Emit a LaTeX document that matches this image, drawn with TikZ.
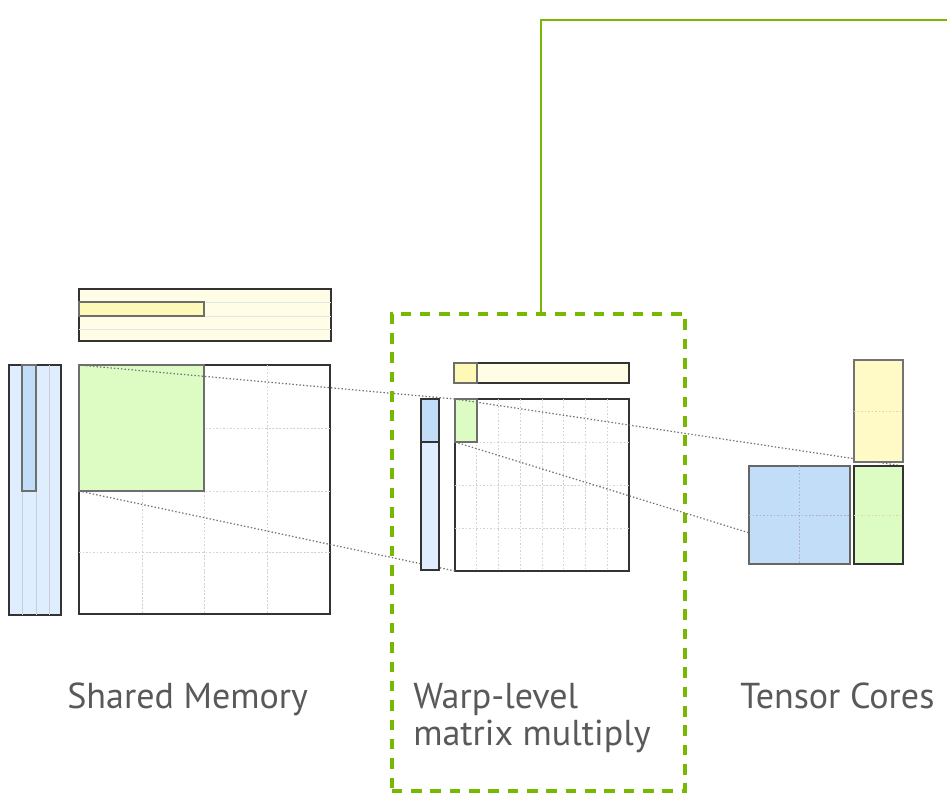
\documentclass[tikz,border=0pt]{standalone}
\usepackage{fontspec}
\usepackage{xcolor}
\usepackage{tikz}
\newfontfamily\capfont{PT Sans}

\definecolor{nvgreen}{HTML}{76B900}
\definecolor{tileedge}{HTML}{333333}
\definecolor{stripedge}{HTML}{6E6E6E}
\definecolor{capgray}{HTML}{595959}
\definecolor{bluelo}{HTML}{DFEEFE}
\definecolor{bluehi}{HTML}{C1DDF8}
\definecolor{yellowlo}{HTML}{FFFDE6}
\definecolor{yellowhi}{HTML}{FFF9B8}
\definecolor{greenhi}{HTML}{DDFCC4}
\newcommand{\pxu}{0.02cm}

\tikzset{
  tile/.style={draw=tileedge, line width=1pt, inner sep=0pt, outer sep=0pt, anchor=north west},
  strip/.style={draw=stripedge, line width=0.7pt, inner sep=0pt, outer sep=0pt, anchor=north west},
  cell/.style={draw=black!18, line width=0.5pt, dash pattern=on 1pt off 1pt},
  sepline/.style={draw=#1, line width=0.5pt},
  link/.style={draw=black!55, line width=0.7pt, dash pattern=on 0.8pt off 1.2pt},
  caption/.style={anchor=base west, inner sep=0pt, text=capgray, align=left,
    font=\capfont\fontsize{20.5}{21}\selectfont},
}

\begin{document}
\begin{tikzpicture}[x=\pxu, y=-\pxu]
\useasboundingbox (0,0) rectangle (947,792);

% shared memory tiles
\node[tile, fill=yellowlo, minimum width=252*\pxu, minimum height=52*\pxu] (smemB) at (79,289) {};
\foreach \r in {302,316,329}
  \draw[sepline=black!10] (79,\r) -- (331,\r);
\node[strip, fill=yellowhi, minimum width=125*\pxu, minimum height=14*\pxu] (smemBk) at (79,302) {};

\node[tile, fill=bluelo, minimum width=52*\pxu, minimum height=250*\pxu] (smemA) at (9,365) {};
\foreach \c in {22,36,49}
  \draw[sepline=blue!20!black!20] (\c,365) -- (\c,615);
\node[strip, fill=bluehi, minimum width=14*\pxu, minimum height=126*\pxu] (smemAk) at (22,365) {};

\node[tile, fill=white, minimum width=251*\pxu, minimum height=249*\pxu] (smemC) at (79,365) {};
\foreach \c in {142,204,267}
  \draw[cell] (\c,365) -- (\c,614);
\foreach \r in {428,491,552}
  \draw[cell] (79,\r) -- (330,\r);
\node[strip, fill=greenhi, minimum width=125*\pxu, minimum height=126*\pxu] (smemCt) at (79,365) {};

% warp-level tiles
\node[tile, fill=yellowlo, minimum width=175*\pxu, minimum height=20*\pxu] (warpB) at (454,363) {};
\node[strip, fill=yellowhi, minimum width=23*\pxu, minimum height=20*\pxu] (warpBk) at (454,363) {};

\node[tile, fill=white, minimum width=174*\pxu, minimum height=172*\pxu] (warpC) at (455,399) {};
\foreach \i in {1,...,7}
  \draw[cell] ({455+21.75*\i},399) -- ({455+21.75*\i},571);
\foreach \r in {442,485,528}
  \draw[cell] (455,\r) -- (629,\r);
\node[strip, fill=greenhi, minimum width=22*\pxu, minimum height=43*\pxu] (warpCt) at (455,399) {};

% dotted links between levels
\draw[link] (smemC.north west) -- (warpC.north west);
\draw[link] (smemCt.south west) -- (warpC.south west);
\draw[link] (warpCt.north west) -- (854+49,466);
\draw[link] (warpCt.south west) -- (850,564);

\node[tile, fill=bluelo, minimum width=18*\pxu, minimum height=171*\pxu] (warpA) at (421,399) {};
\node[strip, draw=tileedge, fill=bluehi, minimum width=18*\pxu, minimum height=43*\pxu] (warpAk) at (421,399) {};

% tensor core fragments
\node[strip, draw=black!55, fill=yellowhi!80, minimum width=49*\pxu, minimum height=102*\pxu] (tcB) at (854,360) {};
\draw[cell, draw=olive!30] (tcB.west) -- (tcB.east);
\node[strip, draw=black!60, fill=bluehi, minimum width=101*\pxu, minimum height=98*\pxu] (tcA) at (749,466) {};
\draw[cell, draw=blue!25!black!30] (tcA.west) -- (tcA.east);
\draw[cell, draw=blue!25!black!30] (tcA.north) -- (tcA.south);
\node[tile, fill=greenhi, minimum width=49*\pxu, minimum height=98*\pxu] (tcC) at (854,466) {};
\draw[cell, draw=olive!30] (tcC.west) -- (tcC.east);

% warp box and its feed line
\node[draw=nvgreen, line width=2pt, dash pattern=on 6pt off 5pt, inner sep=0pt,
  anchor=north west, minimum width=293*\pxu, minimum height=477*\pxu] (warpbox) at (390,312) {};
\coordinate (feed) at (955,20);
\draw[nvgreen, line width=1.3pt] ([xshift=0.05cm]warpbox.north) |- (feed);

% captions
\node[caption] (smemcap) at (67,708) {Shared Memory};
\node[caption] (warpcap) at (413,745) {Warp-level\\matrix multiply};
\node[caption] (tccap) at (740,708) {Tensor Cores};
\end{tikzpicture}
\end{document}
